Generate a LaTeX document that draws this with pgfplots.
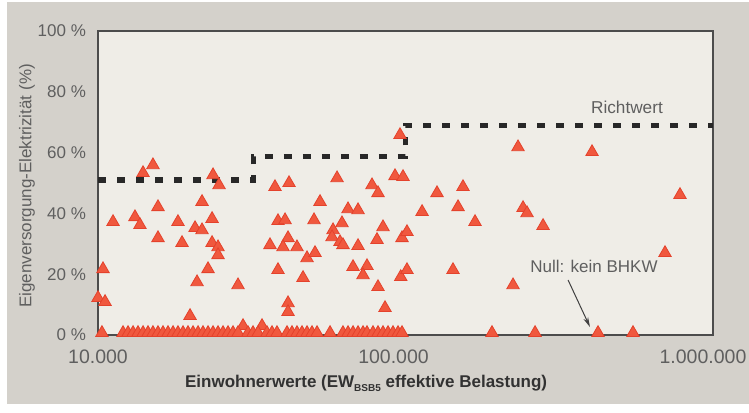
\documentclass[border=0pt]{standalone}
\usepackage{pgfplots}
\pgfplotsset{compat=1.18}
\usepackage{fontspec}
\setmainfont{Liberation Sans}
\usetikzlibrary{arrows.meta}
\definecolor{outerbg}{RGB}{212,209,203}
\definecolor{plotbg}{RGB}{239,237,231}
\definecolor{tri}{RGB}{240,88,62}
\definecolor{trid}{RGB}{228,66,44}
\definecolor{dashc}{RGB}{40,40,40}
\definecolor{ticktxt}{RGB}{95,95,95}
\definecolor{labtxt}{RGB}{50,50,50}
\begin{document}
\begin{tikzpicture}
\fill[white] (0,0) rectangle (374.5pt,206pt);
\fill[outerbg] (3.5pt,4pt) rectangle (374.5pt,205pt);
\begin{axis}[
  at={(49pt,38.5pt)}, anchor=south west,
  width=307.5pt, height=152pt, scale only axis,
  xmode=log, xmin=10000, xmax=1000000, ymin=0, ymax=100,
  clip=false,
  axis background/.style={fill=plotbg},
  axis line style={draw=black!70, line width=0.6pt},
  xtick={10000,100000,1000000},
  xticklabels={10.000,{100.000\kern12pt},{1.000.000\kern10pt}},
  xminorticks=false,
  ytick={0,20,40,60,80,100},
  yticklabels={0 \%,20 \%,40 \%,60 \%,80 \%,100 \%},
  major tick length=0pt,
  xticklabel style={font=\fontsize{9.75}{11}\selectfont, color=ticktxt, yshift=-4pt},
  yticklabel style={font=\fontsize{8.5}{10}\selectfont, color=ticktxt, xshift=-2.5pt},
  xlabel={\textbf{Einwohnerwerte (EW\raisebox{-0.45ex}{\fontsize{5}{6}\selectfont BSB5} effektive Belastung)}},
  xlabel style={font=\fontsize{8.5}{10}\selectfont, color=labtxt, at={(axis description cs:0.436,0)}, anchor=center, yshift=-24pt},
  ylabel={Eigenversorgung-Elektrizität (\%)},
  ylabel style={font=\fontsize{8.5}{10}\selectfont, color=ticktxt, at={(axis description cs:-0.1154,0.49)}, anchor=center},
]
% non-zero values
\addplot[only marks, mark=triangle*, mark size=3.6pt, mark options={fill=tri, draw=trid, line width=0.4pt}] coordinates {
(15090,55.9) (14010,53.3) (23660,52.6) (24750,49.3) (15670,42.1) (21790,43.8)
(11190,37.2) (13190,38.8) (13690,36.2) (18200,37.2) (23490,38.2) (20680,35.2)
(21790,34.5) (15670,31.9) (18760,30.3) (23490,30.3) (24560,28.9) (24560,26.3)
(10380,21.7) (22790,21.7) (20990,17.4) (28530,16.4) (10000,12.2) (10540,10.9)
(19920,6.3) (29620,3) (34150,3)
(37630,48.7) (41800,50.0) (59890,51.6) (77820,49.3) (81380,46.7) (92450,52.3)
(98150,52.0) (52720,43.8) (65020,41.4) (70080,41.1) (38490,37.5) (40570,37.8)
(50400,37.8) (58120,34.5) (62150,36.8) (84490,35.5) (36250,29.6) (41490,31.9)
(39960,28.9) (44370,28.9) (47830,25.3) (50780,27.0) (57690,32.2) (61230,30.6)
(62610,29.6) (70080,29.3) (80780,31.3) (97410,31.9) (38490,21.4) (46420,18.8)
(67510,22.4) (74960,22.7) (72750,19.7) (96500,19.1) (81380,15.8) (85770,8.9)
(41490,10.5) (41490,7.6)
(95960,65.8) (232200,61.8) (126600,46.7) (153800,48.7) (113200,40.5) (148200,42.1)
(168300,37.2) (241100,41.8) (248400,40.1) (280100,35.9) (101100,33.9) (101100,21.4)
(142700,21.4) (223700,16.4) (404200,60.2) (781000,46.1) (698100,27.0)
};
% zero values (no CHP)
\addplot[only marks, mark=triangle*, mark size=3.6pt, mark options={fill=tri, draw=trid, line width=0.4pt}] coordinates {
(10300,0.7) (12060,0.7) (12520,0.7) (13000,0.7) (13490,0.7) (14010,0.7) (14540,0.7)
(15090,0.7) (15670,0.7) (16270,0.7) (16890,0.7) (17540,0.7) (18200,0.7) (18900,0.7)
(19620,0.7) (20370,0.7) (21150,0.7) (21950,0.7) (22790,0.7) (23660,0.7) (24560,0.7)
(25500,0.7) (26470,0.7) (27480,0.7) (28530,0.7) (30740,0.7) (31920,0.7) (33140,0.7)
(35440,0.7) (36800,0.7) (38200,0.7) (41180,0.7) (42740,0.7) (44370,0.7) (46070,0.7)
(47830,0.7) (49650,0.7) (51550,0.7) (56830,0.7) (62610,0.7) (65020,0.7) (67510,0.7)
(70080,0.7) (72750,0.7) (74960,0.7) (78400,0.7) (81380,0.7) (84490,0.7) (87720,0.7)
(91060,0.7) (94540,0.7) (97410,0.7) (191100,0.7) (263800,0.7) (422700,0.7) (549300,0.7)
};
% Richtwert
\addplot[dashc, line width=2.6pt, dash pattern=on 4pt off 5.5pt, mark=none] coordinates {
(10000,51) (32000,51) (32000,58.6) (100000,58.6) (100000,69) (1000000,69)
};
\node[font=\fontsize{8.6}{10}\selectfont, text=ticktxt] at (axis cs:525000,75) {Richtwert};
\node[font=\fontsize{8.5}{10}\selectfont, text=ticktxt] at (axis cs:410200,22.4) {Null: kein BHKW};
\draw[-{Stealth[length=5pt,width=2.5pt]}, black!75, line width=0.5pt] (axis cs:337800,18.1) -- (axis cs:398100,2.6);
\end{axis}
\pgfresetboundingbox
\path[use as bounding box] (0,0) rectangle (374.5pt,206pt);
\end{tikzpicture}
\end{document}
